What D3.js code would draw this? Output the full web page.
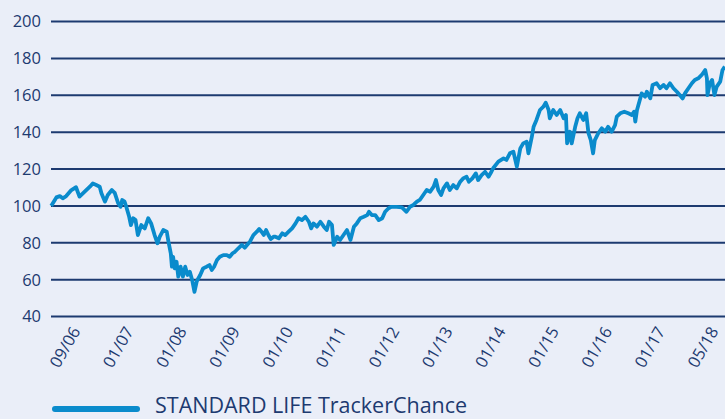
<!DOCTYPE html>
<html>
<head>
<meta charset="utf-8">
<script src="https://cdn.jsdelivr.net/npm/d3@7"></script>
<style>
	body { margin: 0; background: #eaeef8; }
	svg { display: block; }
</style>
</head>
<body>
<svg id="chart" width="725" height="419"></svg>
<script>
// series name shown in the legend
var seriesName = "STANDARD LIFE TrackerChance";

// x positions as decimal years
var years = [
	2006.67, 2006.68, 2006.76, 2006.82, 2006.87, 2006.93, 2007.02, 2007.10, 2007.16, 2007.25,
	2007.34, 2007.39, 2007.45, 2007.51, 2007.54, 2007.60, 2007.65, 2007.72, 2007.77, 2007.83,
	2007.87, 2007.90, 2007.94, 2007.97, 2008.02, 2008.05, 2008.09, 2008.13, 2008.17, 2008.23,
	2008.29, 2008.35, 2008.40, 2008.46, 2008.51, 2008.55, 2008.61, 2008.67, 2008.70, 2008.74,
	2008.76, 2008.78, 2008.81, 2008.84, 2008.87, 2008.91, 2008.95, 2008.99, 2009.03, 2009.07,
	2009.11, 2009.15, 2009.19, 2009.25, 2009.30, 2009.36, 2009.41, 2009.45, 2009.49, 2009.54,
	2009.59, 2009.65, 2009.71, 2009.76, 2009.81, 2009.85, 2009.91, 2009.97, 2010.02, 2010.06,
	2010.11, 2010.17, 2010.23, 2010.27, 2010.31, 2010.35, 2010.39, 2010.43, 2010.47, 2010.52,
	2010.55, 2010.61, 2010.67, 2010.72, 2010.78, 2010.84, 2010.90, 2010.95, 2011.01, 2011.07,
	2011.13, 2011.17, 2011.21, 2011.27, 2011.33, 2011.39, 2011.44, 2011.48, 2011.53, 2011.56,
	2011.62, 2011.67, 2011.73, 2011.79, 2011.85, 2011.91, 2011.96, 2012.02, 2012.08, 2012.14,
	2012.17, 2012.22, 2012.28, 2012.34, 2012.40, 2012.45, 2012.51, 2012.56, 2012.65, 2012.74,
	2012.82, 2012.88, 2012.94, 2013.00, 2013.05, 2013.11, 2013.17, 2013.23, 2013.29, 2013.33,
	2013.37, 2013.42, 2013.46, 2013.52, 2013.57, 2013.63, 2013.69, 2013.75, 2013.80, 2013.86,
	2013.90, 2013.96, 2014.02, 2014.06, 2014.12, 2014.18, 2014.24, 2014.29, 2014.32, 2014.41,
	2014.50, 2014.55, 2014.61, 2014.67, 2014.73, 2014.79, 2014.84, 2014.90, 2014.93, 2014.99,
	2015.02, 2015.07, 2015.13, 2015.19, 2015.23, 2015.28, 2015.30, 2015.36, 2015.42, 2015.48,
	2015.54, 2015.58, 2015.60, 2015.65, 2015.68, 2015.74, 2015.78, 2015.82, 2015.88, 2015.93,
	2015.97, 2016.01, 2016.05, 2016.08, 2016.14, 2016.20, 2016.26, 2016.31, 2016.37, 2016.43,
	2016.46, 2016.52, 2016.59, 2016.66, 2016.72, 2016.76, 2016.78, 2016.81, 2016.85, 2016.89,
	2016.95, 2016.98, 2017.04, 2017.08, 2017.15, 2017.21, 2017.27, 2017.32, 2017.38, 2017.44,
	2017.50, 2017.55, 2017.60, 2017.64, 2017.70, 2017.76, 2017.81, 2017.87, 2017.93, 2017.99,
	2018.02, 2018.03, 2018.07, 2018.11, 2018.15, 2018.19, 2018.25, 2018.29, 2018.33
];

// index values at those positions
var values = [
	100.0, 100.5, 104.6, 105.3, 104.1, 105.3, 108.6, 110.1, 105.0, 107.7,
	110.4, 112.2, 111.3, 110.4, 106.8, 102.3, 105.9, 108.6, 107.1, 101.4,
	99.5, 103.2, 102.3, 99.5, 94.1, 89.6, 93.3, 92.3, 84.2, 89.6,
	87.8, 93.3, 90.5, 84.2, 79.7, 83.3, 86.9, 86.0, 80.6, 74.3,
	67.0, 72.4, 66.1, 69.7, 61.6, 67.0, 61.6, 67.0, 62.5, 64.3,
	59.8, 53.4, 59.1, 62.5, 66.1, 67.0, 67.9, 65.2, 67.0, 70.6,
	72.4, 73.3, 73.3, 72.4, 74.3, 75.1, 77.0, 78.8, 77.3, 78.8,
	80.6, 84.2, 86.0, 87.5, 86.0, 84.2, 86.9, 84.2, 82.0, 83.3,
	83.3, 82.4, 85.1, 84.2, 86.0, 87.8, 90.5, 93.3, 92.3, 94.1,
	91.4, 87.8, 90.5, 88.7, 91.4, 88.7, 86.9, 91.4, 89.6, 78.8,
	83.3, 81.5, 84.2, 86.9, 81.5, 88.7, 90.5, 93.3, 94.1, 95.0,
	96.8, 95.0, 95.0, 92.3, 93.3, 96.8, 98.7, 99.5, 99.5, 99.2,
	96.8, 99.5, 100.5, 102.3, 103.2, 105.9, 108.6, 107.7, 110.4, 114.0,
	108.6, 105.9, 109.5, 112.2, 108.6, 111.3, 109.5, 113.1, 114.9, 115.8,
	113.1, 114.9, 117.6, 114.0, 116.7, 118.5, 115.8, 118.5, 120.4, 124.0,
	125.8, 124.9, 128.5, 129.4, 121.3, 131.2, 133.9, 134.8, 128.5, 137.5,
	142.9, 146.6, 152.0, 153.8, 156.0, 152.0, 147.5, 152.0, 149.3, 152.0,
	147.5, 149.3, 133.9, 140.2, 133.9, 142.9, 147.5, 150.2, 146.6, 150.2,
	139.4, 135.7, 128.5, 135.7, 139.4, 142.1, 140.2, 142.9, 140.2, 143.8,
	148.4, 150.2, 151.1, 150.2, 149.3, 151.1, 145.7, 152.0, 156.5, 161.0,
	159.2, 161.9, 158.3, 165.6, 166.5, 163.8, 165.6, 163.8, 166.5, 163.8,
	161.9, 160.1, 158.3, 161.0, 163.8, 166.5, 168.3, 169.2, 171.0, 173.7,
	169.2, 160.1, 166.5, 168.3, 160.1, 164.7, 167.4, 173.7, 175.5
];

// y axis ticks and x axis labels
var yTicks = [40, 60, 80, 100, 120, 140, 160, 180, 200];
var xLabels = ["09/06", "01/07", "01/08", "01/09", "01/10", "01/11", "01/12",
	"01/13", "01/14", "01/15", "01/16", "01/17", "05/18"];

var NAVY = "#1d3a70";
var LINE_COLOR = "#0a8bcc";
var FONT = "'Open Sans', 'Noto Sans', sans-serif";

var svg = d3.select("#chart");

var x = d3.scaleLinear()
	.domain([2006.667, 2018.333])
	.range([51, 725]);

var y = d3.scaleLinear()
	.domain([40, 200])
	.range([316.5, 21.5]);

// labels are equally spaced, not on the time scale
var xl = d3.scalePoint()
	.domain(xLabels)
	.range([81, 719]);

svg.append("rect")
	.attr("width", 725)
	.attr("height", 419)
	.attr("fill", "#eaeef8");

// horizontal grid lines
svg.selectAll(".grid")
	.data(yTicks)
	.enter()
	.append("line")
	.attr("class", "grid")
	.attr("x1", 51)
	.attr("x2", 725)
	.attr("y1", function(d) { return y(d); })
	.attr("y2", function(d) { return y(d); })
	.attr("stroke", NAVY)
	.attr("stroke-width", 2);

// y tick labels
svg.selectAll(".ylab")
	.data(yTicks)
	.enter()
	.append("text")
	.attr("class", "ylab")
	.attr("x", 41)
	.attr("y", function(d) { return y(d); })
	.attr("dy", "0.36em")
	.attr("text-anchor", "end")
	.attr("font-family", FONT)
	.attr("font-size", "16.5px")
	.attr("fill", NAVY)
	.text(function(d) { return d; });

// x tick labels, rotated
svg.selectAll(".xlab")
	.data(xLabels)
	.enter()
	.append("text")
	.attr("class", "xlab")
	.attr("transform", function(d) { return "translate(" + xl(d) + ",331) rotate(-60)"; })
	.attr("text-anchor", "end")
	.attr("font-family", FONT)
	.attr("font-size", "16.5px")
	.attr("fill", NAVY)
	.text(function(d) { return d; });

// the series line
var line = d3.line()
	.x(function(d, i) { return x(years[i]); })
	.y(function(d) { return y(d); });

svg.append("path")
	.datum(values)
	.attr("d", line)
	.attr("fill", "none")
	.attr("stroke", LINE_COLOR)
	.attr("stroke-width", 3.8)
	.attr("stroke-linejoin", "round");

// legend
svg.append("line")
	.attr("x1", 55)
	.attr("x2", 137)
	.attr("y1", 409)
	.attr("y2", 409)
	.attr("stroke", LINE_COLOR)
	.attr("stroke-width", 6)
	.attr("stroke-linecap", "round");

svg.append("text")
	.attr("x", 155)
	.attr("y", 413)
	.attr("font-family", FONT)
	.attr("font-size", "21.5px")
	.attr("fill", NAVY)
	.text(seriesName);
</script>
</body>
</html>
